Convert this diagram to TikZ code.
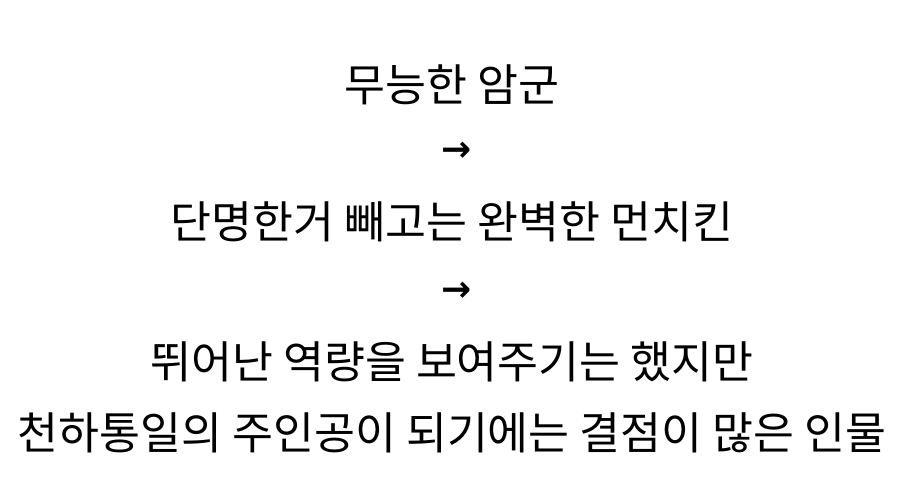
\documentclass[tikz,border=0pt]{standalone}
\usepackage{fontspec}
\setmainfont{Noto Sans CJK KR}
\newfontfamily\arrfont{DejaVu Sans}
\begin{document}
\begin{tikzpicture}[x=1pt,y=1pt,txt/.style={font=\fontsize{44.5}{48}\selectfont,inner sep=0pt,anchor=center},arr/.style={font=\arrfont\bfseries\fontsize{36}{40}\selectfont,inner sep=0pt,anchor=center}]
\useasboundingbox[fill=white] (0,0) rectangle (900,-483);
\node[txt] (l1) at (452,-85) {무능한 암군};
\node[arr] (a1) at (457,-152) {→};
\node[txt] (l2) at (452,-222) {단명한거 빼고는 완벽한 먼치킨};
\node[arr] (a2) at (457,-292) {→};
\node[txt] (l3) at (452,-362) {뛰어난 역량을 보여주기는 했지만};
\node[txt] (l4) at (452,-433) {천하통일의 주인공이 되기에는 결점이 많은 인물};
\end{tikzpicture}
\end{document}
